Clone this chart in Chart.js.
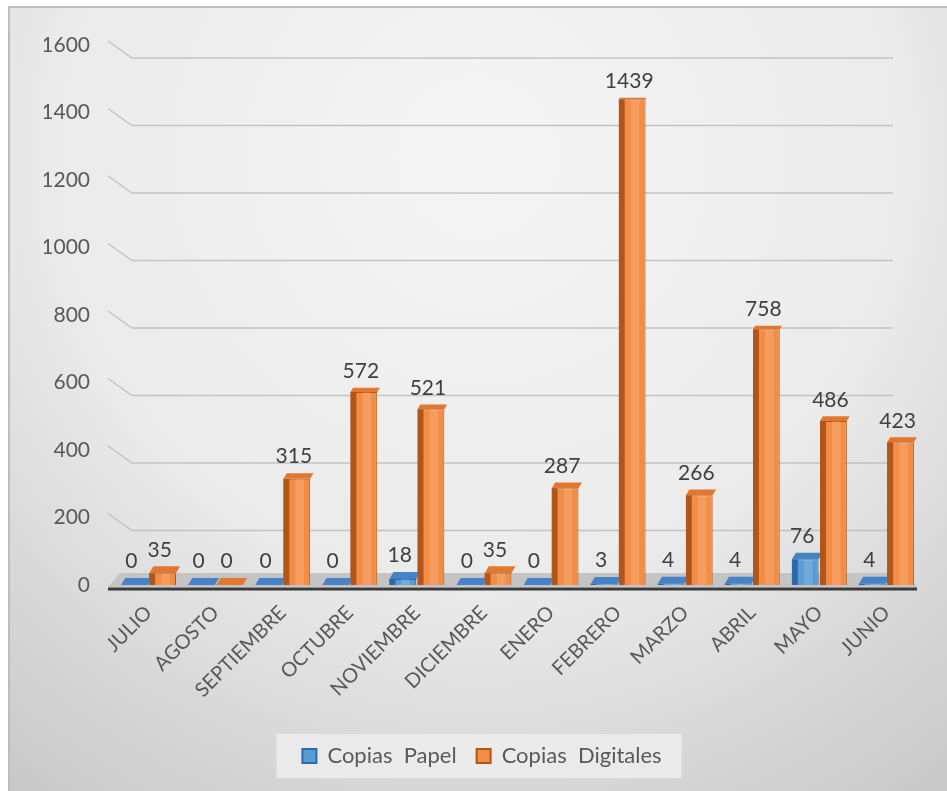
<!DOCTYPE html>
<html lang="es">
<head>
<meta charset="utf-8">
<title>Copias papel y digitales</title>
<script src="https://cdn.jsdelivr.net/npm/chart.js@4/dist/chart.umd.min.js"></script>
<style>
  body {
    margin: 0;
    background: #ffffff;
  }
  #chart {
    position: absolute;
    left: 8px;
    top: 6px;
  }
</style>
</head>
<body>
<canvas id="chart" width="939" height="785"></canvas>
<script>
const MONTHS = [`JULIO`, `AGOSTO`, `SEPTIEMBRE`, `OCTUBRE`, `NOVIEMBRE`, `DICIEMBRE`,
  `ENERO`, `FEBRERO`, `MARZO`, `ABRIL`, `MAYO`, `JUNIO`];
const COPIAS_PAPEL = [0, 0, 0, 0, 18, 0, 0, 3, 4, 4, 76, 4];
const COPIAS_DIGITALES = [35, 0, 315, 572, 521, 35, 287, 1439, 266, 758, 486, 423];
const Y_TICKS = [0, 200, 400, 600, 800, 1000, 1200, 1400, 1600];

const FONT = `Lato, "Open Sans", sans-serif`;
const TEXT_GREY = `#595959`;

// face colours per series: front, dark edge, top
const SHADES = [
  {front: `#5b9bd5`, edge: `#2f68a8`, top: `#4682c6`},
  {front: `#f38d45`, edge: `#b0561b`, top: `#e2782f`},
];

const topDepth = (h) => Math.max(1.5, 7 - h * 0.014);

const backgroundPlugin = {
  id: `background`,
  beforeDraw(chart) {
    const {ctx, width, height} = chart;
    const g = ctx.createRadialGradient(470, 150, 0, 470, 150, 850);
    g.addColorStop(0, `#f5f5f5`);
    g.addColorStop(0.5, `#ebebeb`);
    g.addColorStop(0.75, `#d6d6d6`);
    g.addColorStop(1, `#c3c3c3`);
    ctx.save();
    ctx.fillStyle = g;
    ctx.fillRect(0, 0, width, height);
    ctx.strokeStyle = `#bdbdbd`;
    ctx.lineWidth = 2;
    ctx.beginPath();
    ctx.moveTo(1, height);
    ctx.lineTo(1, 1);
    ctx.lineTo(width, 1);
    ctx.stroke();

    // legend panel
    const boxes = chart.legend.legendHitBoxes;
    if (boxes && boxes.length) {
      const left = Math.min(...boxes.map((b) => b.left)) - 26;
      const right = Math.max(...boxes.map((b) => b.left + b.width)) + 20;
      const top = Math.min(...boxes.map((b) => b.top)) - 11;
      const bottom = Math.max(...boxes.map((b) => b.top + b.height)) + 11;
      ctx.fillStyle = `rgba(240, 240, 240, 0.75)`;
      ctx.fillRect(left, top, right - left, bottom - top);
    }
    ctx.restore();
  }
};

const wallPlugin = {
  id: `wall`,
  beforeDatasetsDraw(chart) {
    const {ctx, chartArea: area, scales: {y}} = chart;
    const base = y.getPixelForValue(0);
    ctx.save();

    // back wall gridlines, bent where they meet the side wall
    ctx.strokeStyle = `rgba(185, 185, 185, 0.8)`;
    ctx.lineWidth = 1.5;
    Y_TICKS.slice(1).forEach((v) => {
      const yy = y.getPixelForValue(v);
      ctx.beginPath();
      ctx.moveTo(area.left - 7, yy - 4);
      ctx.lineTo(area.left + 17, yy + 13);
      ctx.lineTo(area.right - 27, yy + 13);
      ctx.stroke();
    });

    // floor
    ctx.fillStyle = `#c4c4c4`;
    ctx.beginPath();
    ctx.moveTo(area.left + 5, base - 12);
    ctx.lineTo(area.right - 13, base - 12);
    ctx.lineTo(area.right - 3, base + 2);
    ctx.lineTo(area.left - 7, base + 2);
    ctx.closePath();
    ctx.fill();

    ctx.strokeStyle = `#3a3a3a`;
    ctx.lineWidth = 3;
    ctx.beginPath();
    ctx.moveTo(area.left - 7, base + 4);
    ctx.lineTo(area.right - 3, base + 4);
    ctx.stroke();
    ctx.restore();
  }
};

const shadePlugin = {
  id: `shade`,
  afterDatasetsDraw(chart) {
    const {ctx} = chart;
    ctx.save();
    chart.data.datasets.forEach((ds, i) => {
      const shade = SHADES[i];
      chart.getDatasetMeta(i).data.forEach((bar, j) => {
        const {x, y, base, width} = bar.getProps([`x`, `y`, `base`, `width`], true);
        const left = x - width / 2;
        const right = x + width / 2;
        const h = base - y;
        const d = topDepth(h);

        if (h > 0) {
          ctx.fillStyle = shade.edge;
          ctx.fillRect(left, y, width * 0.22, h);
          ctx.fillStyle = `rgba(255, 255, 255, 0.14)`;
          ctx.fillRect(x - width * 0.05, y, width * 0.32, h);
        }

        ctx.fillStyle = shade.top;
        ctx.beginPath();
        ctx.moveTo(left, y);
        ctx.lineTo(right, y);
        ctx.lineTo(right + d * 0.6, y - d);
        ctx.lineTo(left + d * 0.6, y - d);
        ctx.closePath();
        ctx.fill();

        ctx.fillStyle = `#404040`;
        ctx.font = `21px ${FONT}`;
        ctx.textAlign = `center`;
        ctx.textBaseline = `bottom`;
        ctx.fillText(String(ds.data[j]), x - 3, y - d - 6);
      });
    });
    ctx.restore();
  }
};

const chart = new Chart(document.getElementById(`chart`), {
  type: `bar`,
  plugins: [backgroundPlugin, wallPlugin, shadePlugin],
  data: {
    labels: MONTHS,
    datasets: [
      {
        label: `Copias  Papel`,
        data: COPIAS_PAPEL,
        backgroundColor: SHADES[0].front,
        borderColor: SHADES[0].edge,
        borderWidth: 1,
        categoryPercentage: 0.84,
        barPercentage: 0.95,
      },
      {
        label: `Copias  Digitales`,
        data: COPIAS_DIGITALES,
        backgroundColor: SHADES[1].front,
        borderColor: SHADES[1].edge,
        borderWidth: 1,
        categoryPercentage: 0.84,
        barPercentage: 0.95,
      },
    ]
  },
  options: {
    responsive: false,
    animation: false,
    layout: {
      padding: {top: 39, right: 27, bottom: 14, left: 36}
    },
    plugins: {
      tooltip: {enabled: false},
      legend: {
        position: `bottom`,
        labels: {
          color: TEXT_GREY,
          font: {family: FONT, size: 22},
          boxWidth: 14,
          boxHeight: 14,
          padding: 20,
          generateLabels: (ch) => ch.data.datasets.map((ds, i) => ({
            text: ds.label,
            fillStyle: SHADES[i].front,
            strokeStyle: SHADES[i].edge,
            lineWidth: 2,
            fontColor: TEXT_GREY,
            datasetIndex: i,
          })),
        }
      }
    },
    scales: {
      x: {
        grid: {display: false},
        border: {display: false},
        ticks: {
          color: TEXT_GREY,
          font: {family: FONT, size: 20},
          minRotation: 45,
          maxRotation: 45,
          padding: 8,
        },
        afterFit: (scale) => {
          scale.height = 140;
        }
      },
      y: {
        min: 0,
        max: 1600,
        grid: {display: false, drawTicks: false},
        border: {display: false},
        ticks: {
          stepSize: 200,
          color: TEXT_GREY,
          font: {family: FONT, size: 21},
          padding: 25,
          callback: (value) => String(value),
        },
        afterFit: (scale) => {
          scale.width = 71;
        }
      }
    }
  }
});
</script>
</body>
</html>
